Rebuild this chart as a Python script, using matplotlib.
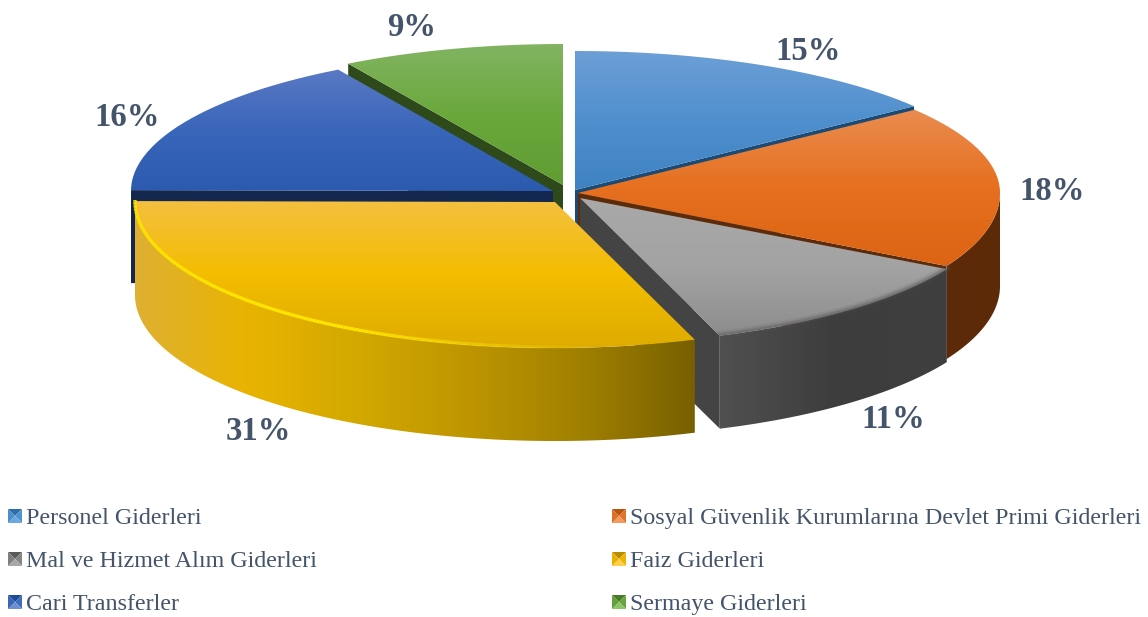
import numpy as np
import matplotlib
matplotlib.use("Agg")
import matplotlib.pyplot as plt
from matplotlib.colors import LinearSegmentedColormap
from matplotlib.patches import Polygon

# donnees
categories = ["Personel Giderleri", "Sosyal Güvenlik Kurumlarına Devlet Primi Giderleri",
              "Mal ve Hizmet Alım Giderleri", "Faiz Giderleri", "Cari Transferler", "Sermaye Giderleri"]
values = [14.7, 18.4, 11.5, 30.5, 16.4, 8.5]
pct_labels = ["15%", "18%", "11%", "31%", "16%", "9%"]

# geometrie de chaque part : centre, rayons, rayon y arriere / avant
centers = [(575, 190), (578, 193), (580, 198), (555, 202), (553, 191), (563, 185)]
rx = [425, 422, 420, 420, 422, 422]
ry_back = [139, 138, 146, 146, 141, 141]
ry_front = [140, 150, 146, 146, 141, 141]
depth = 93

top_colors = [["#6d9fd6", "#4f8fce", "#3f82c2"], ["#ea8c50", "#e6701f", "#dc6414"],
              ["#a9a9a9", "#a3a3a3", "#8d8d8d"], ["#f4c040", "#f3bd00", "#deac00"],
              ["#5a79c4", "#3a66ba", "#2b5aaf"], ["#82b462", "#6aa83c", "#5f9c32"]]
wall_colors = [["#1b4a75", "#1b4a75"], ["#5c2b0a", "#5e2a08"], ["#505050", "#3d3d3d", "#3f3f3f"],
               ["#dfb033", "#e9b400", "#d2a800", "#bd9500", "#a08000", "#786000"],
               ["#14284f", "#14284f"], ["#2f4a1a", "#2f4a1a"]]
cut_colors = ["#1b4a75", "#5c2b0a", "#444444", "#745c00", "#14284f", "#2f4a1a"]
key_colors = [("#2e6fa8", "#4f93cf", "#6aa9e0", "#4a8fcc"), ("#b9540f", "#e0752a", "#f09a5c", "#dc6f25"),
              ("#5a5a5a", "#858585", "#a8a8a8", "#7f7f7f"), ("#b88c00", "#eeb400", "#ffd04d", "#e8b000"),
              ("#1f4a94", "#3e6cbc", "#6b8fd0", "#3a66b6"), ("#487a28", "#68a53e", "#8cc468", "#64a03a")]

text_color = "#44546a"
serif = "Liberation Serif"

fig = plt.figure(figsize=(11.48, 6.17), dpi=100)
ax = fig.add_axes([0, 0, 1, 1])


def rim(i, a, b, n=200):
    # points du bord de la part i entre les angles a et b (sens horaire depuis le haut)
    phi = np.linspace(a, b, n)
    cx, cy = centers[i]
    c = np.cos(phi)
    ry = np.where(c > 0, ry_back[i], ry_front[i])
    return np.column_stack([cx + rx[i] * np.sin(phi), cy - ry * c])


def grad_fill(verts, colors, vertical=True, z=1):
    xs, ys = verts[:, 0], verts[:, 1]
    cmap = LinearSegmentedColormap.from_list("g", colors)
    g = np.linspace(0, 1, 256)
    img = g.reshape(-1, 1) if vertical else g.reshape(1, -1)
    im = ax.imshow(img, cmap=cmap, vmin=0, vmax=1, aspect="auto", zorder=z, interpolation="bilinear",
                   extent=(xs.min(), xs.max(), ys.max(), ys.min()))
    poly = Polygon(verts, closed=True, transform=ax.transData, facecolor="none", edgecolor="none")
    ax.add_patch(poly)
    im.set_clip_path(poly)


edges = np.concatenate([[0], np.cumsum(values)]) / np.sum(values) * 2 * np.pi
order = [0, 5, 4, 1, 2, 3]  # de l'arriere vers l'avant

for k, i in enumerate(order):
    a, b = edges[i], edges[i + 1]
    cx, cy = centers[i]
    z = 2 + k * 3
    d = np.array([0, depth])
    apex = np.array([cx, cy])

    # faces de coupe visibles
    for ang, visible in [(a, np.sin(a) < -1e-6), (b, np.sin(b) > 1e-6)]:
        if visible:
            p = rim(i, ang, ang, 1)[0]
            ax.add_patch(Polygon([apex, p, p + d, apex + d], closed=True, facecolor=cut_colors[i],
                                 edgecolor="none", zorder=z))

    # paroi exterieure (seulement la moitie avant)
    w0, w1 = max(a, np.pi / 2), min(b, 3 * np.pi / 2)
    if w1 > w0:
        arc = rim(i, w0, w1)
        grad_fill(np.vstack([arc, (arc + d)[::-1]]), wall_colors[i], vertical=False, z=z + 1)

    # dessus
    arc = rim(i, a, b)
    grad_fill(np.vstack([apex, arc]), top_colors[i], z=z + 2)

    # bord de la part
    if i == 3:
        n = len(arc)
        for j in range(0, n - 1):
            al = np.clip((j / n - 0.12) * 3.0, 0, 1)
            ax.plot(arc[j:j + 2, 0], arc[j:j + 2, 1] - 1, color="#ffe500", lw=2.4, alpha=al,
                    solid_capstyle="butt", zorder=z + 2.5)
    if i == 2:
        for lw, al in [(6, 0.10), (3.5, 0.2), (1.5, 0.3)]:
            ax.plot(arc[:, 0], arc[:, 1] - 1, color="#555555", lw=lw, alpha=al, zorder=z + 2.5)

# pourcentages
label_xy = [(808, 51), (1052, 191), (893, 420), (258, 432), (127, 118), (412, 27)]
for (x, y), s in zip(label_xy, pct_labels):
    ax.text(x, y, s, ha="center", va="center", family=serif, fontweight="bold", fontsize=23.5, color=text_color)

# legende
legend_xy = [(8, 516), (612, 516), (8, 559), (612, 559), (8, 602), (612, 602)]
for (x, y), name, cols in zip(legend_xy, categories, key_colors):
    h = 7
    m = (x + h, y)
    tl, tr, br, bl = (x, y - h), (x + 2 * h, y - h), (x + 2 * h, y + h), (x, y + h)
    for tri, c in zip([(tl, tr, m), (tr, br, m), (br, bl, m), (bl, tl, m)], cols):
        ax.add_patch(Polygon([*tri], closed=True, facecolor=c, edgecolor="none", zorder=30))
    ax.text(x + 18, y + 8, name, ha="left", va="baseline", family=serif, fontsize=17.3, color=text_color)

ax.set_xlim(0, 1148)
ax.set_ylim(617, 0)
ax.axis("off")

fig.savefig("out.png", dpi=100)
